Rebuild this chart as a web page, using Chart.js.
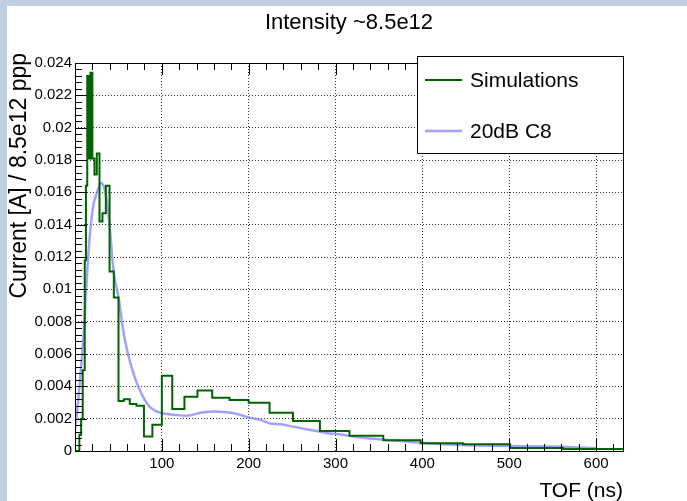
<!DOCTYPE html>
<html>
<head>
<meta charset="utf-8">
<title>Intensity ~8.5e12</title>
<script src="https://cdn.jsdelivr.net/npm/chart.js@4.4.1/dist/chart.umd.min.js"></script>
<style>
  html, body { margin: 0; padding: 0; background: #fff; }
  #wrap { position: relative; width: 687px; height: 501px; }
</style>
</head>
<body>
<div id="wrap"><canvas id="tof-chart"></canvas></div>
<script>
// Simulation histogram: log-spaced bin edges (ns) and bin contents
const binEdges = [0, 5.01, 5.62, 6.31, 7.08, 7.94, 8.91, 10.0, 11.2, 12.6, 14.1, 15.8, 17.8, 20.0,
  22.4, 25.1, 28.2, 31.6, 35.5, 39.8, 44.7, 50.1, 56.2, 63.1, 70.8, 79.4, 89.1, 100,
  112, 126, 141, 158, 178, 200, 224, 251, 282, 316, 355, 398, 447, 501, 562, 631];
const simValues = [0, 0.0010, 0.0010, 0.0010, 0.0020, 0.0020, 0.0050, 0.0050, 0.0118, 0.0164,
  0.0232, 0.0181, 0.0234, 0.0181, 0.0171, 0.0184, 0.0142, 0.0147, 0.0164, 0.0111, 0.0095,
  0.0031, 0.0032, 0.0029, 0.0028, 0.0009, 0.00163, 0.00465, 0.0026, 0.00336, 0.00375,
  0.0033, 0.00316, 0.00299, 0.00237, 0.00186, 0.00124, 0.00094, 0.00067, 0.00048,
  0.00042, 0.00018, 0.00013];

// Measured waveform (20dB C8)
const measTime = [0, 2, 4.2, 6, 8, 10.8, 13.9, 17.7, 21.5, 25.4, 30.4, 35, 39.6, 44.7, 50.4,
  54.3, 58.1, 63.5, 71.2, 78.9, 86.6, 98, 117, 130, 148, 167, 183, 202, 213, 224, 237,
  252, 271, 291, 302, 329, 368, 406, 445, 502, 560, 600];
const measCurrent = [0.0013, 0.0022, 0.0034, 0.0046, 0.0058, 0.0079, 0.0110, 0.0137, 0.0153,
  0.0160, 0.0166, 0.0160, 0.0141, 0.0110, 0.0094, 0.0079, 0.0067, 0.0055, 0.0042, 0.0033,
  0.0027, 0.00237, 0.00223, 0.00219, 0.0024, 0.00243, 0.00233, 0.00205, 0.00194, 0.00172,
  0.00165, 0.0015, 0.0013, 0.0011, 0.00105, 0.00083, 0.00065, 0.00048, 0.00037, 0.00031,
  0.00027, 0.00017];

// labelled axis ticks
const xTickValues = [100, 200, 300, 400, 500, 600];
const yTickValues = [0, 0.002, 0.004, 0.006, 0.008, 0.01, 0.012, 0.014, 0.016, 0.018, 0.02, 0.022, 0.024];

const chartTitle = 'Intensity ~8.5e12';
const xTitle = 'TOF (ns)';
const yTitle = 'Current [A] / 8.5e12 ppp';

const FONT = '"Liberation Sans", Arial, Helvetica, sans-serif';

// stepped line: each edge carries the content of the bin that starts there
const simPoints = binEdges.map((x, i) => ({ x, y: simValues[Math.min(i, simValues.length - 1)] }));
const measPoints = measTime.map((x, i) => ({ x, y: measCurrent[i] }));

// ROOT-like frame, inner ticks, legend box and titles
const rootStyle = {
  id: 'rootStyle',
  beforeDraw(c) {
    const ctx = c.ctx;
    ctx.save();
    ctx.fillStyle = '#ffffff';
    ctx.fillRect(0, 0, c.width, c.height);
    ctx.fillStyle = '#bfcfe2';
    ctx.fillRect(0, 0, c.width, 6);
    ctx.fillRect(0, 0, 7, c.height);
    ctx.restore();
  },
  afterDatasetsDraw(c) {
    const { ctx, chartArea: a, scales: { x, y } } = c;
    ctx.save();
    ctx.strokeStyle = '#000';
    ctx.lineWidth = 1;
    ctx.strokeRect(Math.round(a.left) + 0.5, Math.round(a.top) + 0.5,
      Math.round(a.right - a.left), Math.round(a.bottom - a.top));
    ctx.beginPath();
    for (let v = 20; v < x.max; v += 20) {
      const px = Math.round(x.getPixelForValue(v)) + 0.5;
      const len = v % 100 === 0 ? 12 : 7;
      ctx.moveTo(px, a.bottom); ctx.lineTo(px, a.bottom - len);
      ctx.moveTo(px, a.top); ctx.lineTo(px, a.top + len);
    }
    for (let k = 1; k < 60; k++) {
      const v = k * 0.0004;
      if (v > y.max + 1e-9) break;
      const py = Math.round(y.getPixelForValue(v)) + 0.5;
      const len = k % 5 === 0 ? 12 : 7;
      ctx.moveTo(a.left, py); ctx.lineTo(a.left + len, py);
    }
    ctx.stroke();
    ctx.restore();
  },
  afterDraw(c) {
    const { ctx, chartArea: a } = c;
    ctx.save();
    // legend
    const lx = 417.5, ly = 56.5, lw = 206, lh = 97;
    ctx.fillStyle = '#fff';
    ctx.fillRect(lx, ly, lw, lh);
    ctx.strokeStyle = '#000';
    ctx.lineWidth = 1;
    ctx.strokeRect(lx, ly, lw, lh);
    const rows = [80, 131];
    c.data.datasets.forEach((ds, i) => {
      ctx.strokeStyle = ds.borderColor;
      ctx.lineWidth = ds.borderWidth;
      ctx.beginPath();
      ctx.moveTo(425, rows[i]);
      ctx.lineTo(462, rows[i]);
      ctx.stroke();
      ctx.fillStyle = '#000';
      ctx.font = '21px ' + FONT;
      ctx.textBaseline = 'middle';
      ctx.textAlign = 'left';
      ctx.fillText(ds.label, 470, rows[i] + 1);
    });
    // titles
    ctx.fillStyle = '#000';
    ctx.textBaseline = 'alphabetic';
    ctx.font = '22px ' + FONT;
    ctx.textAlign = 'center';
    ctx.fillText(chartTitle, 349, 29);
    ctx.font = '21px ' + FONT;
    ctx.textAlign = 'right';
    ctx.fillText(xTitle, a.right, 497);
    ctx.translate(26, 53);
    ctx.rotate(-Math.PI / 2);
    ctx.font = '23px ' + FONT;
    ctx.textAlign = 'right';
    ctx.fillText(yTitle, 0, 0);
    ctx.restore();
  },
};

const ctx = document.getElementById('tof-chart');
new Chart(ctx, {
  type: 'line',
  data: {
    datasets: [
      // green histogram
      {
        label: 'Simulations',
        data: simPoints,
        stepped: true,
        borderColor: '#006400',
        borderWidth: 2,
        pointRadius: 0,
        fill: false,
      },
      // measured curve
      {
        label: '20dB C8',
        data: measPoints,
        borderColor: 'rgba(130,130,255,0.75)',
        borderWidth: 2.5,
        pointRadius: 0,
        tension: 0.3,
        fill: false,
      },
    ],
  },
  options: {
    responsive: true,
    maintainAspectRatio: false,
    animation: false,
    layout: {
      padding: { top: 63, right: 64, left: 0, bottom: 0 },
    },
    scales: {
      x: {
        type: 'linear',
        min: 0,
        max: 631,
        border: { display: false, dash: [1, 2] },
        grid: {
          drawTicks: false,
          color: '#333',
        },
        ticks: {
          padding: 4,
          maxRotation: 0,
          autoSkip: false,
          color: '#000',
          font: { family: FONT, size: 15 },
        },
        afterBuildTicks: (s) => { s.ticks = xTickValues.map((value) => ({ value })); },
        afterFit: (s) => { s.height = 50; },
      },
      y: {
        min: 0,
        max: 0.024,
        border: { display: false, dash: [1, 2] },
        grid: {
          drawTicks: false,
          color: (g) => (g.tick && g.tick.value > 1e-9 && g.tick.value < 0.0239 ? '#333' : 'transparent'),
        },
        ticks: {
          padding: 3,
          color: '#000',
          font: { family: FONT, size: 15 },
          callback: (v) => String(+v.toFixed(3)),
        },
        afterBuildTicks: (s) => { s.ticks = yTickValues.map((value) => ({ value })); },
        afterFit: (s) => { s.width = 75; },
      },
    },
    plugins: {
      legend: { display: false },
      tooltip: { enabled: false },
    },
  },
  plugins: [rootStyle],
});
</script>
</body>
</html>
